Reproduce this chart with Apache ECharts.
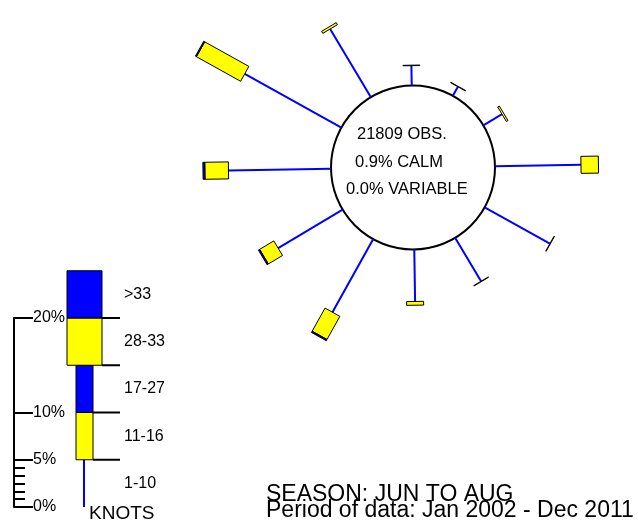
<!DOCTYPE html>
<html>
<head>
<meta charset="utf-8">
<style>
  html, body { margin: 0; padding: 0; background: #fff; }
  #chart { width: 638px; height: 523px; }
</style>
<script src="https://cdn.jsdelivr.net/npm/echarts@6/dist/echarts.min.js"></script>
</head>
<body>
<div id="chart"></div>
<script>
// Wind directions (degrees from north) and percentage frequency per speed band
const directions = [0, 30, 60, 90, 120, 150, 180, 210, 240, 270, 300, 330];
const pct1to10   = [2.1, 1.1, 2.3, 9.1, 7.9, 5.35, 5.5, 8.85, 7.95, 10.85, 11.7, 8.4];
const pct11to16  = [0.05, 0.05, 0.2, 1.85, 0.05, 0.05, 0.4, 2.8, 1.75, 2.5, 5.35, 0.25];
const pct17to27  = [0, 0, 0, 0, 0, 0, 0, 0.15, 0.15, 0.2, 0.12, 0];
const pct28to33  = [0, 0, 0, 0, 0, 0, 0, 0, 0, 0, 0, 0];
const pctOver33  = [0, 0, 0, 0, 0, 0, 0, 0, 0, 0, 0, 0];

// Speed bands (knots) and their extent on the legend scale (percent)
const speedBands = ['1-10', '11-16', '17-27', '28-33', '>33'];
const bandLow    = [0, 5, 10, 15, 20];
const bandHigh   = [5, 10, 15, 20, 25];

// Legend scale ticks and labels (percent)
const scaleLabelValues = [0, 5, 10, 20];

// Summary figures
const obsCount = 21809;
const calmPct = 0.9;
const variablePct = 0.0;
const seasonText = 'SEASON: JUN TO AUG';
const periodText = 'Period of data: Jan 2002 - Dec 2011';

const FONT = '"Liberation Sans", Arial, sans-serif';
const BLUE = '#0000ff';
const YELLOW = '#ffff00';
const bandColor = [BLUE, YELLOW, BLUE, YELLOW, BLUE];
const bandWidth = [0, 17, 17, 35, 35];

const roseData = directions.map((d, i) => [d, pct1to10[i], pct11to16[i], pct17to27[i], pct28to33[i], pctOver33[i]]);
const legendData = speedBands.map((b, i) => [i, bandLow[i], bandHigh[i]]);

// minor ticks between 0% and 5% on the legend scale
const minorTickValues = [1, 2, 3, 4, 5].map(k => k * 5 / 6);

function roseItem(params, api) {
  const dir = api.value(0);
  const vals = [api.value(1), api.value(2), api.value(3), api.value(4), api.value(5)];
  const p0 = api.coord([0, dir]);
  const pf = api.coord([10, dir]);
  const len = Math.hypot(pf[0] - p0[0], pf[1] - p0[1]);
  const ux = (pf[0] - p0[0]) / len, uy = (pf[1] - p0[1]) / len;
  const nx = -uy, ny = ux;
  const children = [];
  let cum = vals[0];
  const p1 = api.coord([cum, dir]);
  children.push({
    type: 'line',
    shape: { x1: p0[0], y1: p0[1], x2: p1[0], y2: p1[1] },
    style: { stroke: BLUE, lineWidth: 2 }
  });
  for (let k = 1; k < 5; k++) {
    const v = vals[k];
    if (k > 1 && !(v > 0)) continue;
    const a = api.coord([cum, dir]);
    cum += v;
    const b = api.coord([cum, dir]);
    const w = bandWidth[k] / 2;
    children.push({
      type: 'polygon',
      shape: { points: [
        [a[0] + nx * w, a[1] + ny * w],
        [b[0] + nx * w, b[1] + ny * w],
        [b[0] - nx * w, b[1] - ny * w],
        [a[0] - nx * w, a[1] - ny * w]
      ] },
      style: { fill: bandColor[k], stroke: '#000', lineWidth: 1 }
    });
  }
  return { type: 'group', children };
}

// legend column layout (pixels)
const LEG_CX = 84.5, LEG_SEP_END = 120, LEG_TEXT_X = 124;

function legendItem(params, api) {
  const k = api.value(0);
  const lo = api.value(1), hi = api.value(2);
  const yLo = api.coord([0, lo])[1];
  const yHi = api.coord([0, hi])[1];
  const yMid = api.coord([0, (lo + hi) / 2])[1];
  const children = [];
  if (k === 0) {
    children.push({
      type: 'line',
      shape: { x1: LEG_CX - 0.5, y1: yLo, x2: LEG_CX - 0.5, y2: yHi },
      style: { stroke: BLUE, lineWidth: 2 }
    });
  } else {
    const w = bandWidth[k] / 2;
    children.push({
      type: 'line',
      shape: { x1: LEG_CX + w, y1: yLo, x2: LEG_SEP_END, y2: yLo },
      style: { stroke: '#000', lineWidth: 2 }
    });
    children.push({
      type: 'rect',
      shape: { x: LEG_CX - w, y: yHi, width: 2 * w, height: yLo - yHi },
      style: { fill: bandColor[k], stroke: '#000', lineWidth: 1 }
    });
  }
  children.push({
    type: 'text',
    style: {
      text: speedBands[k], x: LEG_TEXT_X, y: yMid,
      align: 'left', verticalAlign: 'middle',
      textAlign: 'left', textVerticalAlign: 'middle',
      font: '16px ' + FONT, fill: '#000'
    }
  });
  return { type: 'group', children };
}

function textEl(text, x, y, size) {
  return {
    type: 'text', x: x, y: y,
    style: {
      text: text, font: size + 'px ' + FONT, fill: '#000',
      align: 'left', verticalAlign: 'middle',
      textAlign: 'left', textVerticalAlign: 'middle'
    }
  };
}

const chart = echarts.init(document.getElementById('chart'), null, { renderer: 'canvas' });

const option = {
  animation: false,
  backgroundColor: '#fff',
  polar: [
    { center: [413, 167.5], radius: [82, 82 + 20 * 9.45] },
    { center: [413, 167.5], radius: 82 }
  ],
  angleAxis: [
    { polarIndex: 0, type: 'value', min: 0, max: 360, startAngle: 90.9, clockwise: true, show: false },
    {
      polarIndex: 1, type: 'value', min: 0, max: 360, startAngle: 90,
      axisLine: { show: true, lineStyle: { color: '#000', width: 2 } },
      axisTick: { show: false }, axisLabel: { show: false }, splitLine: { show: false }
    }
  ],
  radiusAxis: [
    { polarIndex: 0, type: 'value', min: 0, max: 20, show: false },
    { polarIndex: 1, type: 'value', min: 0, max: 1, show: false }
  ],
  grid: { left: 14, top: 318, width: 160, height: 189 },
  xAxis: { type: 'value', min: 0, max: 1, show: false },
  yAxis: [
    {
      type: 'value', min: 0, max: 20, position: 'left',
      axisLine: { show: true, lineStyle: { color: '#000', width: 2 } },
      axisTick: { show: true, inside: true, length: 19, customValues: scaleLabelValues, lineStyle: { color: '#000', width: 2 } },
      axisLabel: { inside: true, margin: 19, customValues: scaleLabelValues, formatter: '{value}%', color: '#000', fontSize: 16, fontFamily: FONT },
      splitLine: { show: false }
    },
    {
      type: 'value', min: 0, max: 20, position: 'left', offset: 0,
      axisLine: { show: false },
      axisTick: { show: true, inside: true, length: 11, customValues: minorTickValues, lineStyle: { color: '#000', width: 2 } },
      axisLabel: { show: false },
      splitLine: { show: false }
    }
  ],
  series: [
    {
      type: 'custom', coordinateSystem: 'polar', polarIndex: 0,
      encode: { angle: 0, radius: 1 },
      clip: false,
      renderItem: roseItem,
      data: roseData,
      z: 5
    },
    {
      type: 'custom', coordinateSystem: 'cartesian2d', xAxisIndex: 0, yAxisIndex: 0,
      encode: { y: [1, 2] },
      clip: false,
      renderItem: legendItem,
      data: legendData,
      z: 5
    }
  ],
  graphic: [
    textEl(obsCount + ' OBS.', 357, 134, 16.5),
    textEl(calmPct.toFixed(1) + '% CALM', 355, 162, 16.5),
    textEl(variablePct.toFixed(1) + '% VARIABLE', 346, 189, 16.5),
    textEl('KNOTS', 89, 513.5, 19),
    textEl(seasonText, 266, 494.5, 23),
    textEl(periodText, 266, 511, 23)
  ]
};

chart.setOption(option);
</script>
</body>
</html>
